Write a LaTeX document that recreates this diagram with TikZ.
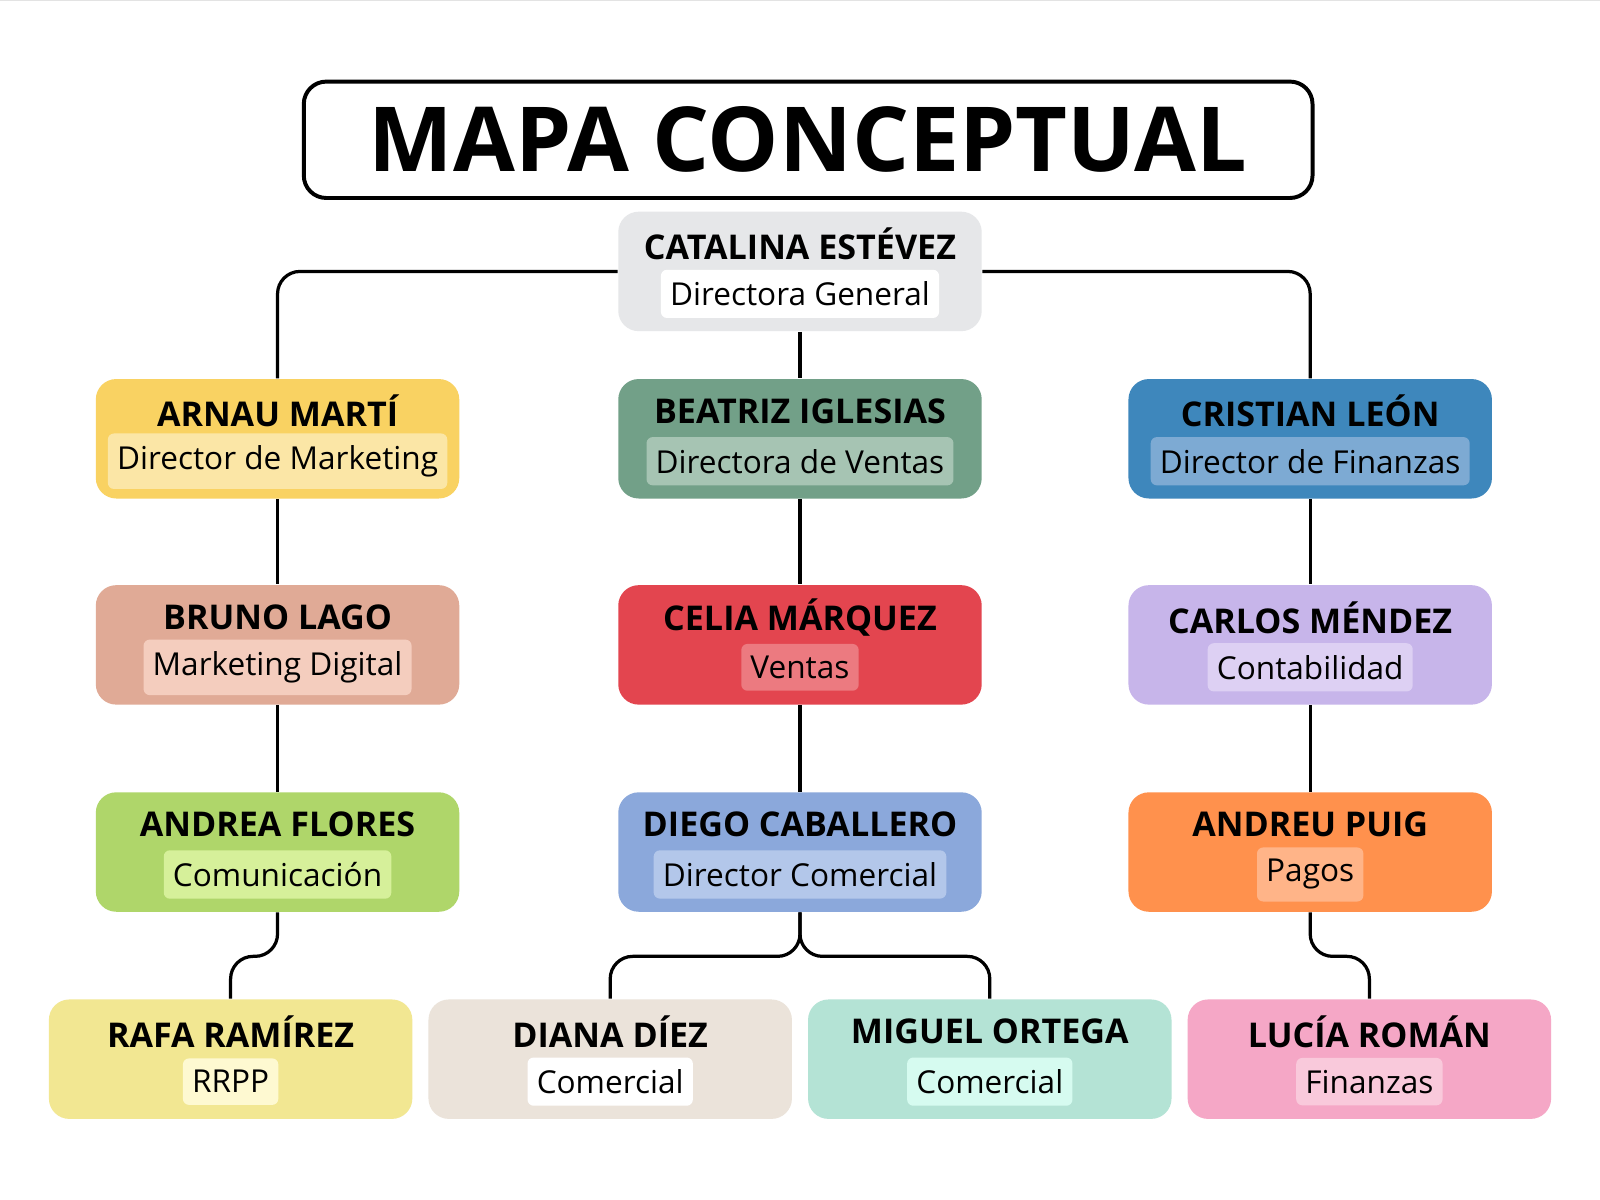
\documentclass[tikz,border=0pt]{standalone}
\usepackage{fontspec}
\setmainfont{Open Sans}
\usetikzlibrary{positioning,calc}
\definecolor{cTop}{HTML}{E6E7E9}
\definecolor{cArnau}{HTML}{F9D262}\definecolor{sArnau}{HTML}{FBE6A6}
\definecolor{cBea}{HTML}{72A088}\definecolor{sBea}{HTML}{A6C4B3}
\definecolor{cCris}{HTML}{3E87BC}\definecolor{sCris}{HTML}{7DAAD3}
\definecolor{cBruno}{HTML}{E0AA96}\definecolor{sBruno}{HTML}{F4CDBE}
\definecolor{cCelia}{HTML}{E3454F}\definecolor{sCelia}{HTML}{EC7A80}
\definecolor{cCarlos}{HTML}{C7B5EA}\definecolor{sCarlos}{HTML}{DDD0F3}
\definecolor{cAndrea}{HTML}{AFD66A}\definecolor{sAndrea}{HTML}{D6F09A}
\definecolor{cDiego}{HTML}{8BA8DB}\definecolor{sDiego}{HTML}{B3C7EA}
\definecolor{cAndreu}{HTML}{FF914D}\definecolor{sAndreu}{HTML}{FFB488}
\definecolor{cRafa}{HTML}{F2E792}\definecolor{sRafa}{HTML}{FEF9D1}
\definecolor{cDiana}{HTML}{EBE3DA}
\definecolor{cMiguel}{HTML}{B4E3D5}\definecolor{sMiguel}{HTML}{D6FBF0}
\definecolor{cLucia}{HTML}{F5A7C6}\definecolor{sLucia}{HTML}{F9C9DB}
\tikzset{
  card/.style={rectangle, rounded corners=0.2cm, minimum width=3.56cm, minimum height=1.17cm, inner sep=0pt},
  pname/.style={font=\fontsize{9.5}{10}\selectfont\bfseries, text=black},
  prole/.style={rectangle, rounded corners=0.06cm, inner xsep=0.09cm, minimum height=0.42cm, font=\fontsize{8.8}{10}\selectfont, text=black},
  link/.style={line width=0.9pt, rounded corners=0.22cm},
}
% box with name and role
\newcommand{\person}[7]{%
  \node[card, fill=#4] (#1) at (#2,#3) {};
  \node[pname] (#1n) at ($(#1)+(0,-27)$) {#6};
  \node[prole, fill=#5] (#1r) at ($(#1)+(0,22)$) {#7};
}
\begin{document}
\begin{tikzpicture}[x=0.01cm, y=-0.01cm]
\fill[white] (0,0) rectangle (1568,1176);
\useasboundingbox (0,0) rectangle (1568,1176);
\draw[black!7, line width=0.3pt, step=0.25cm] (0,0) grid (1568,-1176);
\draw[black!11, line width=0.4pt, step=1cm] (0,0) grid (1568,-1176);

\node[draw, line width=1.1pt, rounded corners=0.22cm, minimum width=9.88cm, minimum height=1.14cm, font=\fontsize{25}{26}\selectfont\bfseries] (title) at (792,137) {MAPA CONCEPTUAL};

\person{cat}{784}{266}{cTop}{white}{CATALINA ESTÉVEZ}{Directora General}
\person{arnau}{272}{430}{cArnau}{sArnau}{ARNAU MARTÍ}{Director de Marketing}
\person{bea}{784}{430}{cBea}{sBea}{BEATRIZ IGLESIAS}{Directora de Ventas}
\person{cris}{1284}{430}{cCris}{sCris}{CRISTIAN LEÓN}{Director de Finanzas}
\person{bruno}{272}{632}{cBruno}{sBruno}{BRUNO LAGO}{Marketing Digital}
\person{celia}{784}{632}{cCelia}{sCelia}{CELIA MÁRQUEZ}{Ventas}
\person{carlos}{1284}{632}{cCarlos}{sCarlos}{CARLOS MÉNDEZ}{Contabilidad}
\person{andrea}{272}{835}{cAndrea}{sAndrea}{ANDREA FLORES}{Comunicación}
\person{diego}{784}{835}{cDiego}{sDiego}{DIEGO CABALLERO}{Director Comercial}
\person{andreu}{1284}{835}{cAndreu}{sAndreu}{ANDREU PUIG}{Pagos}
\person{rafa}{226}{1038}{cRafa}{sRafa}{RAFA RAMÍREZ}{RRPP}
\person{diana}{598}{1038}{cDiana}{white}{DIANA DÍEZ}{Comercial}
\person{miguel}{970}{1038}{cMiguel}{sMiguel}{MIGUEL ORTEGA}{Comercial}
\person{lucia}{1342}{1038}{cLucia}{sLucia}{LUCÍA ROMÁN}{Finanzas}

\draw[link] (cat.west) -| (arnau.north);
\draw[link] (cat.east) -| (cris.north);
\draw[link] (cat.south) -- (bea.north);
\draw[link] (arnau.south) -- (bruno.north);
\draw[link] (bruno.south) -- (andrea.north);
\draw[link] (bea.south) -- (celia.north);
\draw[link] (celia.south) -- (diego.north);
\draw[link] (cris.south) -- (carlos.north);
\draw[link] (carlos.south) -- (andreu.north);
\draw[link] (andrea.south) -- ++(0,43) -| (rafa.north);
\draw[link] (andreu.south) -- ++(0,43) -| (lucia.north);
\draw[link] (diego.south) -- ++(0,43) -| (diana.north);
\draw[link] (diego.south) -- ++(0,43) -| (miguel.north);
\end{tikzpicture}
\end{document}
